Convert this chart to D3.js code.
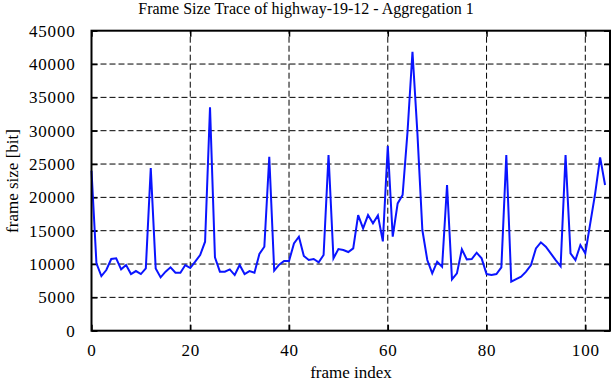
<!DOCTYPE html>
<html><head><meta charset="utf-8">
<script src="https://cdn.jsdelivr.net/npm/d3@7"></script>
<style>
html,body{margin:0;padding:0;background:#fff;}
</style></head>
<body><svg id="c" width="612" height="382" font-family="Liberation Serif, DejaVu Serif, serif"></svg>
<script>
const title = "Frame Size Trace of highway-19-12 - Aggregation 1";
const xLabel = "frame index";
const yLabel = "frame size [bit]";
const xTicks = [0, 20, 40, 60, 80, 100];
const yTicks = [0, 5000, 10000, 15000, 20000, 25000, 30000, 35000, 40000, 45000];
const frameSize = [
 24000, 10100, 8200, 9100, 10750, 10850, 9200, 9850, 8500, 8950,
 8500, 9350, 24400, 9350, 8000, 8850, 9500, 8700, 8700, 9850,
 9400, 10350, 11350, 13350, 33500, 11000, 8850, 8850, 9200, 8350,
 9850, 8500, 8950, 8700, 11500, 12600, 26100, 9000, 9900, 10450,
 10450, 13100, 14100, 11200, 10600, 10750, 10250, 11350, 26350, 10850,
 12250, 12100, 11800, 12350, 17350, 15350, 17350, 16100, 17300, 13400,
 27700, 14100, 19100, 20350, 29850, 41850, 29600, 15100, 10600, 8600,
 10350, 9600, 21850, 7700, 8600, 12200, 10700, 10750, 11700, 10850,
 8500, 8350, 8500, 9500, 26350, 7350, 7750, 8100, 8850, 9850,
 12350, 13250, 12600, 11600, 10600, 9650, 26350, 11600, 10600, 12850,
 11600, 16100, 20600, 26000, 21850
];
const frameIndex = frameSize.map((d, i) => i);
const SERIF = "Liberation Serif";

const svg = d3.select("#c");
const L = 91.5, R = 610, T = 30.7, B = 330.7;
const x = d3.scaleLinear().domain([0, 105]).range([L, R]);
const y = d3.scaleLinear().domain([0, 45000]).range([B, T]);
const fmt = d3.format("d");

// grid
const g = svg.append("g").attr("stroke", "#000").attr("stroke-width", 1).attr("stroke-dasharray", "6,3");
xTicks.filter(t => t > 0).forEach(t => {
  g.append("line").attr("x1", x(t)).attr("x2", x(t)).attr("y1", B).attr("y2", T);
});
yTicks.filter(t => t > 0 && t < 45000).forEach(t => {
  g.append("line").attr("x1", L).attr("x2", R).attr("y1", y(t)).attr("y2", y(t));
});

// axes with inward ticks
const ax = svg.append("g").attr("transform", `translate(0,${B})`)
  .call(d3.axisBottom(x).tickValues(xTicks).tickFormat(fmt).tickSizeInner(-6).tickSizeOuter(0).tickPadding(13));
const axT = svg.append("g").attr("transform", `translate(0,${T})`)
  .call(d3.axisTop(x).tickValues(xTicks).tickSizeInner(-6).tickSizeOuter(0).tickFormat(""));
const ay = svg.append("g").attr("transform", `translate(${L},0)`)
  .call(d3.axisLeft(y).tickValues(yTicks).tickFormat(fmt).tickSizeInner(-6).tickSizeOuter(0).tickPadding(16));
const ayR = svg.append("g").attr("transform", `translate(${R},0)`)
  .call(d3.axisRight(y).tickValues(yTicks).tickSizeInner(-6).tickSizeOuter(0).tickFormat(""));
[ax, axT, ay, ayR].forEach(a => {
  a.attr("font-family", SERIF).attr("font-size", 17);
  a.select(".domain").remove();
  a.selectAll(".tick line").attr("stroke", "#000").attr("stroke-width", 1.5);
  a.selectAll("text").attr("font-family", SERIF).attr("font-size", 17)
    .attr("letter-spacing", "0.8").attr("fill", "#000");
});
ax.selectAll("text").attr("dy", "0.71em");

// line
svg.append("path")
  .datum(frameIndex)
  .attr("fill", "none")
  .attr("stroke", "#0a14ff")
  .attr("stroke-width", 2)
  .attr("stroke-linejoin", "miter")
  .attr("d", d3.line().x(i => x(i)).y(i => y(frameSize[i])));

// border
svg.append("rect").attr("x", L).attr("y", T).attr("width", R - L).attr("height", B - T)
  .attr("fill", "none").attr("stroke", "#000").attr("stroke-width", 2);

// labels
svg.append("text").attr("x", 306).attr("y", 14).attr("text-anchor", "middle")
  .attr("font-family", SERIF).attr("font-size", 16).text(title);
svg.append("text").attr("x", 351).attr("y", 378).attr("text-anchor", "middle")
  .attr("font-family", SERIF).attr("font-size", 17).text(xLabel);
svg.append("text").attr("transform", "translate(18,181) rotate(-90)").attr("text-anchor", "middle")
  .attr("font-family", SERIF).attr("font-size", 17).text(yLabel);
</script></body></html>
